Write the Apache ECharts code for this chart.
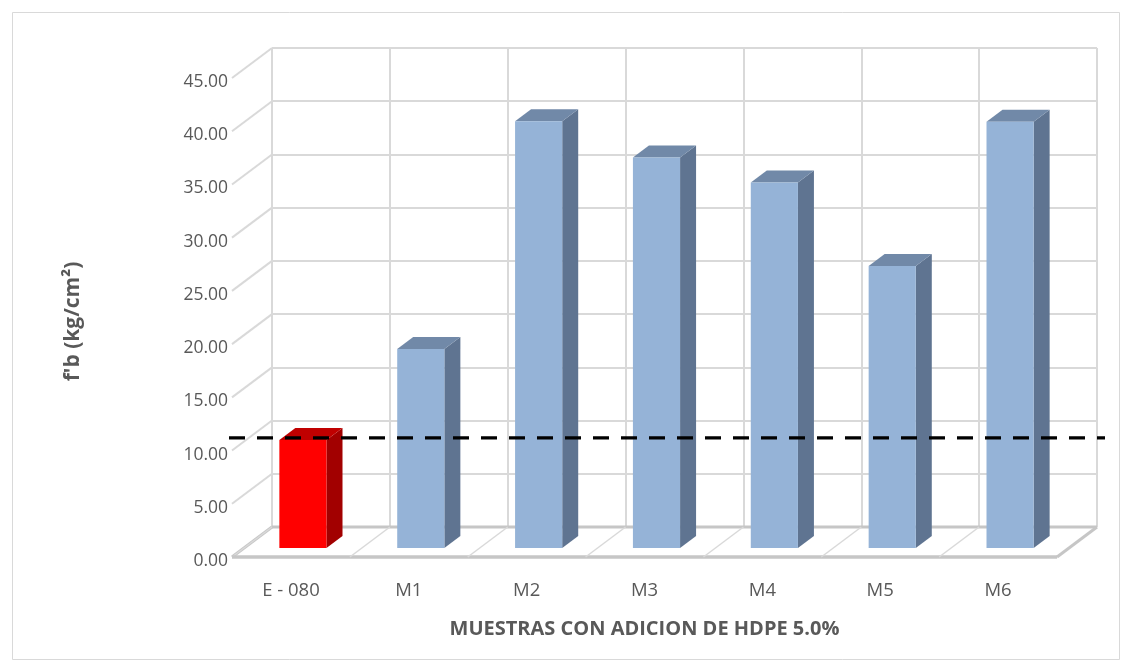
<!DOCTYPE html>
<html>
<head>
<meta charset="utf-8">
<script src="https://cdn.jsdelivr.net/npm/echarts@6/dist/echarts.min.js"></script>
<style>
  html, body { margin: 0; padding: 0; background: #ffffff; }
  #chart { width: 1132px; height: 669px; }
</style>
</head>
<body>
<div id="chart"></div>
<script>
// Compressive strength f'b per sample (kg/cm²)
const categories = ['E - 080', 'M1', 'M2', 'M3', 'M4', 'M5', 'M6'];
const strengths = [10.15, 18.70, 40.10, 36.68, 34.33, 26.50, 40.05];
const referenceLimit = 10.35;
const yTicks = [0, 5, 10, 15, 20, 25, 30, 35, 40, 45];

const chart = echarts.init(document.getElementById('chart'), null, { renderer: 'canvas' });

// oblique depth vector of the 3D box (back wall -> front edge), pixels
const DEPTH = [-40, 30];
const BAR_FRONT = 0.7, BAR_BACK = 0.3, BAR_WIDTH = 0.4;
const GRID_LINE = '#d9d9d9';
const FLOOR_LINE = '#c6c6c6';
const TEXT = '#595959';
const FONT = '"Open Sans", "Liberation Sans", sans-serif';

const colors = {
  blue: { front: '#95b3d7', top: '#7189a8', side: '#5f7491' },
  red:  { front: '#ff0000', top: '#c00000', side: '#a20000' }
};

function shift(p, f) { return [p[0] + DEPTH[0] * f, p[1] + DEPTH[1] * f]; }

// left side wall: one diagonal per value tick
function renderSideWall(params, api) {
  const v = api.value(0);
  const c = api.coord([0, v]);
  const w = api.size([1, 0])[0];
  const back = [c[0] - w / 2, c[1]];
  const front = shift(back, 1);
  const isFloor = v === 0;
  return {
    type: 'line',
    shape: { x1: back[0], y1: back[1], x2: front[0], y2: front[1] },
    style: { stroke: isFloor ? FLOOR_LINE : GRID_LINE, lineWidth: isFloor ? 3 : 2 }
  };
}

// floor: boundary diagonals + outline
function renderFloor(params, api) {
  const idx = api.value(0); // boundary index 0..n
  const w = api.size([1, 0])[0];
  const c0 = api.coord([0, 0]);
  const x = c0[0] - w / 2 + idx * w;
  const back = [x, c0[1]];
  const front = shift(back, 1);
  const n = categories.length;
  const children = [];
  const edge = idx === n;
  children.push({
    type: 'line',
    shape: { x1: back[0], y1: back[1], x2: front[0], y2: front[1] },
    style: { stroke: edge ? FLOOR_LINE : GRID_LINE, lineWidth: edge ? 3 : 1.5 }
  });
  if (idx === 0) {
    const backR = [c0[0] - w / 2 + n * w, c0[1]];
    const frontL = front, frontR = shift(backR, 1);
    children.push({
      type: 'line',
      shape: { x1: back[0], y1: back[1], x2: backR[0], y2: backR[1] },
      style: { stroke: FLOOR_LINE, lineWidth: 3 }
    });
    children.push({
      type: 'line',
      shape: { x1: frontL[0], y1: frontL[1], x2: frontR[0], y2: frontR[1] },
      style: { stroke: FLOOR_LINE, lineWidth: 3.5 }
    });
  }
  return { type: 'group', children };
}

function renderBar(params, api) {
  const i = api.value(0);
  const v = api.value(1);
  const top = api.coord([i, v]);
  const base = api.coord([i, 0]);
  const w = api.size([1, 0])[0] * BAR_WIDTH;
  const pal = i === 0 ? colors.red : colors.blue;
  const fTL = shift([top[0] - w / 2, top[1]], BAR_FRONT);
  const fTR = shift([top[0] + w / 2, top[1]], BAR_FRONT);
  const fBR = shift([base[0] + w / 2, base[1]], BAR_FRONT);
  const fBL = shift([base[0] - w / 2, base[1]], BAR_FRONT);
  const bTL = shift([top[0] - w / 2, top[1]], BAR_BACK);
  const bTR = shift([top[0] + w / 2, top[1]], BAR_BACK);
  const bBR = shift([base[0] + w / 2, base[1]], BAR_BACK);
  return {
    type: 'group',
    children: [
      { type: 'polygon', shape: { points: [fTR, bTR, bBR, fBR] }, style: { fill: pal.side } },
      { type: 'polygon', shape: { points: [fTL, fTR, bTR, bTL] }, style: { fill: pal.top } },
      { type: 'polygon', shape: { points: [fTL, fTR, fBR, fBL] }, style: { fill: pal.front } }
    ]
  };
}

// dashed reference line at the bars' front plane
function renderLimit(params, api) {
  const v = api.value(0);
  const n = categories.length;
  const w = api.size([1, 0])[0];
  const c = api.coord([0, v]);
  const left = shift([c[0] - w / 2, c[1]], BAR_FRONT);
  const right = shift([c[0] - w / 2 + n * w, c[1]], BAR_FRONT);
  return {
    type: 'line',
    shape: { x1: left[0] - 15, y1: left[1], x2: right[0] + 36, y2: right[1] },
    style: { stroke: '#000000', lineWidth: 3.2, lineDash: [16, 12] }
  };
}

const option = {
  backgroundColor: '#ffffff',
  animation: false,
  graphic: [{
    type: 'rect',
    shape: { x: 12.5, y: 12.5, width: 1107, height: 647 },
    style: { fill: 'none', stroke: '#d9d9d9', lineWidth: 1 },
    silent: true
  }],
  grid: [
    { left: 272, top: 48, width: 825, height: 479 },   // back wall
    { left: 232, top: 78, width: 825, height: 479 },   // front floor edge (category labels)
    { left: 232, top: 82, width: 825, height: 479 }    // value labels along the side wall
  ],
  xAxis: [
    {
      gridIndex: 0, type: 'category', data: categories, boundaryGap: true,
      axisLine: { show: false }, axisTick: { show: false }, axisLabel: { show: false },
      splitLine: { show: true, interval: 0, lineStyle: { color: GRID_LINE, width: 2 } }
    },
    {
      gridIndex: 1, type: 'category', data: categories, boundaryGap: true,
      axisLine: { show: false }, axisTick: { show: false },
      axisLabel: { color: TEXT, fontFamily: FONT, fontSize: 18.5, margin: 24 },
      splitLine: { show: false },
      name: 'MUESTRAS CON ADICION DE HDPE 5.0%', nameLocation: 'middle', nameGap: 62,
      nameTextStyle: { color: TEXT, fontFamily: FONT, fontSize: 20, fontWeight: 'bold' }
    },
    {
      gridIndex: 2, type: 'category', data: categories, show: false
    }
  ],
  yAxis: [
    {
      gridIndex: 0, type: 'value', min: 0, max: 45, interval: 5,
      axisLine: { show: false }, axisTick: { show: false }, axisLabel: { show: false },
      splitLine: { show: true, lineStyle: { color: GRID_LINE, width: 2 } }
    },
    {
      gridIndex: 1, type: 'value', min: 0, max: 45, interval: 5, show: false
    },
    {
      gridIndex: 2, type: 'value', min: 0, max: 45, interval: 5,
      axisLine: { show: false }, axisTick: { show: false }, splitLine: { show: false },
      axisLabel: {
        color: TEXT, fontFamily: FONT, fontSize: 17.5, margin: 4,
        formatter: (v) => v.toFixed(2)
      },
      name: "f'b (kg/cm²)", nameLocation: 'middle', nameGap: 148, nameRotate: 90,
      nameTextStyle: { color: TEXT, fontFamily: FONT, fontSize: 21, fontWeight: 'bold' }
    }
  ],
  series: [
    {
      type: 'custom', xAxisIndex: 0, yAxisIndex: 0, silent: true, z: 1,
      renderItem: renderSideWall, data: yTicks.map(v => [v])
    },
    {
      type: 'custom', xAxisIndex: 0, yAxisIndex: 0, silent: true, z: 1,
      renderItem: renderFloor,
      data: Array.from({ length: categories.length + 1 }, (_, k) => [k])
    },
    {
      type: 'custom', xAxisIndex: 0, yAxisIndex: 0, silent: true, z: 3,
      renderItem: renderBar, data: strengths.map((v, i) => [i, v])
    },
    {
      type: 'custom', xAxisIndex: 0, yAxisIndex: 0, silent: true, z: 4,
      renderItem: renderLimit, data: [[referenceLimit]]
    }
  ]
};

chart.setOption(option);
</script>
</body>
</html>
